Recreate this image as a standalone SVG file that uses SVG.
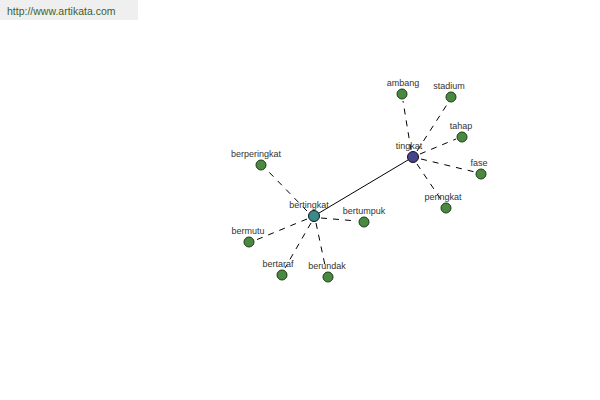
<svg xmlns="http://www.w3.org/2000/svg" width="600" height="400" viewBox="0 0 600 400">
<style>
.lbl{font-family:"Liberation Sans",Arial,sans-serif;font-size:9px;fill:#333;text-anchor:middle}
.leaf{fill:#4a8a40;stroke:#1e3a1a;stroke-width:1}
.dash{stroke:#000;stroke-width:1;stroke-dasharray:6,6;fill:none}
.solid{stroke:#000;stroke-width:1;fill:none}
</style>
<rect width="600" height="400" fill="#fff"/>
<rect x="0" y="0" width="138" height="20" fill="#efefef"/>
<text x="7" y="15" font-family="'Liberation Sans',Arial,sans-serif" font-size="10.5" fill="#3f5e2f">http://www.artikata.com</text>
<g id="connectors">
<line class="solid" x1="413" y1="157" x2="314" y2="216"/>
<line class="dash" x1="411" y1="150" x2="403" y2="101"/>
<line class="dash" x1="417" y1="151" x2="448" y2="103"/>
<line class="dash" x1="420" y1="154" x2="456" y2="139"/>
<line class="dash" x1="421" y1="159" x2="475" y2="172"/>
<line class="dash" x1="417" y1="164" x2="442" y2="201"/>
<line class="dash" x1="307" y1="211" x2="267" y2="170"/>
<line class="dash" x1="321" y1="218" x2="357" y2="221"/>
<line class="dash" x1="307" y1="219" x2="256" y2="240"/>
<line class="dash" x1="311" y1="223" x2="285" y2="268"/>
<line class="dash" x1="316" y1="223" x2="326" y2="270"/>
</g>
<g id="tingkat"><circle cx="413" cy="157" r="5.5" fill="#45458f" stroke="#111" stroke-width="1"/><text class="lbl" x="409" y="149">tingkat</text></g>
<g id="ambang"><circle class="leaf" cx="402" cy="94" r="5"/><text class="lbl" x="403" y="86">ambang</text></g>
<g id="stadium"><circle class="leaf" cx="451" cy="97" r="5"/><text class="lbl" x="449" y="89">stadium</text></g>
<g id="tahap"><circle class="leaf" cx="462" cy="137" r="5"/><text class="lbl" x="461" y="129">tahap</text></g>
<g id="fase"><circle class="leaf" cx="481" cy="174" r="5"/><text class="lbl" x="479" y="166">fase</text></g>
<g id="peringkat"><circle class="leaf" cx="446" cy="208" r="5"/><text class="lbl" x="443" y="200">peringkat</text></g>
<g id="bertingkat"><circle cx="314" cy="216" r="5.5" fill="#3a8a8a" stroke="#111" stroke-width="1"/><text class="lbl" x="309" y="208">bertingkat</text></g>
<g id="berperingkat"><circle class="leaf" cx="261" cy="165" r="5"/><text class="lbl" x="256" y="157">berperingkat</text></g>
<g id="bertumpuk"><circle class="leaf" cx="364" cy="222" r="5"/><text class="lbl" x="364" y="214">bertumpuk</text></g>
<g id="bermutu"><circle class="leaf" cx="249" cy="242" r="5"/><text class="lbl" x="248" y="234">bermutu</text></g>
<g id="bertaraf"><circle class="leaf" cx="282" cy="275" r="5"/><text class="lbl" x="278" y="267">bertaraf</text></g>
<g id="berundak"><circle class="leaf" cx="328" cy="277" r="5"/><text class="lbl" x="327" y="269">berundak</text></g>
</svg>
